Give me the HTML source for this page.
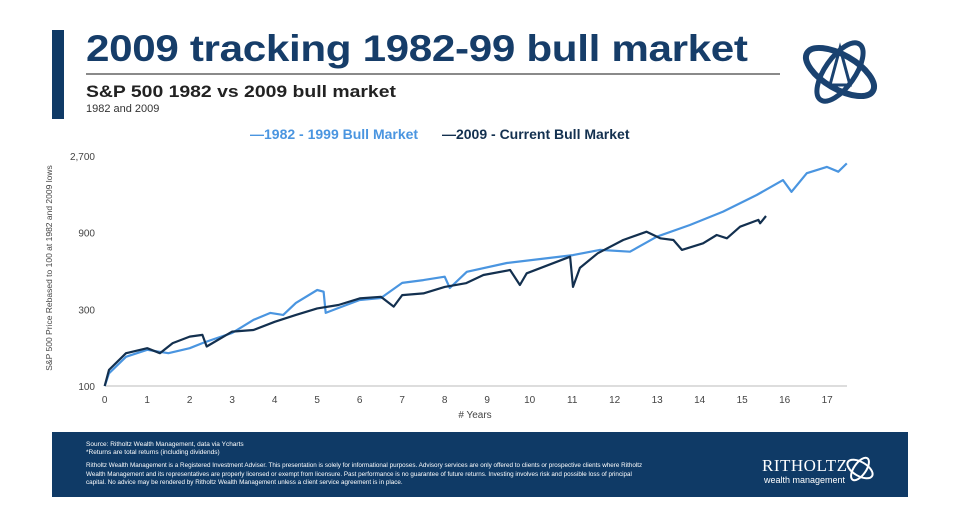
<!DOCTYPE html>
<html><head><meta charset="utf-8">
<style>
html,body{margin:0;padding:0;background:#fff;}
body{width:953px;height:505px;position:relative;overflow:hidden;font-family:"Liberation Sans",sans-serif;}
.abs{position:absolute;}
</style></head>
<body>
<div class="abs" style="left:52px;top:30px;width:12px;height:89px;background:#0f3a66"></div>
<div class="abs" style="left:86px;top:28px;font-size:37px;font-weight:bold;color:#163d69;letter-spacing:-0.3px;white-space:nowrap;transform:scaleX(1.14);transform-origin:0 0">2009 tracking 1982-99 bull market</div>
<div class="abs" style="left:86px;top:73px;width:694px;height:2px;background:#8a8a8a"></div>
<div class="abs" style="left:86px;top:82px;font-size:17px;font-weight:bold;color:#222;white-space:nowrap;transform:scaleX(1.14);transform-origin:0 0">S&amp;P 500 1982 vs 2009 bull market</div>
<div class="abs" style="left:86px;top:103px;font-size:11px;color:#333">1982 and 2009</div>
<svg class="abs" style="left:795px;top:30px" width="90" height="85" viewBox="0 0 90 85">
<ellipse cx="45" cy="42" rx="38" ry="17" transform="rotate(30 45 42)" fill="none" stroke="#1a4270" stroke-width="6"/>
<ellipse cx="45" cy="42" rx="34" ry="15" transform="rotate(-55 45 42)" fill="none" stroke="#1a4270" stroke-width="5"/>
<path d="M45 18 L55 55 L35 55 Z" fill="none" stroke="#1a4270" stroke-width="3"/>
</svg>
<div class="abs" style="left:250px;top:126px;font-size:14px;font-weight:bold;white-space:nowrap">
<span style="color:#4a95e0">—1982 - 1999 Bull Market</span>
<span style="color:#13304f;margin-left:20px">—2009 - Current Bull Market</span>
</div>
<svg class="abs" id="chart" style="left:0;top:0" width="953" height="505"></svg>
<div class="abs" style="left:52px;top:432px;width:856px;height:65px;background:#0f3a66;color:#fff">
<div style="position:absolute;left:34px;top:9px;font-size:6.5px;line-height:8px">Source: Ritholtz Wealth Management, data via Ycharts<br>*Returns are total returns (including dividends)</div>
<div style="position:absolute;left:34px;top:30px;width:560px;font-size:6.3px;line-height:8.5px">Ritholtz Wealth Management is a Registered Investment Adviser. This presentation is solely for informational purposes. Advisory services are only offered to clients or prospective clients where Ritholtz Wealth Management and its representatives are properly licensed or exempt from licensure. Past performance is no guarantee of future returns. Investing involves risk and possible loss of principal capital. No advice may be rendered by Ritholtz Wealth Management unless a client service agreement is in place.</div>
<div style="position:absolute;left:710px;top:24px;font-family:'Liberation Serif',serif;font-size:17px;letter-spacing:0.5px">RITHOLTZ</div>
<div style="position:absolute;left:712px;top:43px;font-size:9px">wealth management</div>
<svg style="position:absolute;left:792px;top:20px" width="32" height="34"><ellipse cx="16" cy="17" rx="14" ry="7" transform="rotate(30 16 17)" fill="none" stroke="#fff" stroke-width="2"/><ellipse cx="16" cy="17" rx="13" ry="6" transform="rotate(-55 16 17)" fill="none" stroke="#fff" stroke-width="2"/></svg>
</div>
<script>
const yTicks=[100,300,900,2700];
const yTickLabels=["100","300","900","2,700"];
const xTicks=[0,1,2,3,4,5,6,7,8,9,10,11,12,13,14,15,16,17];
const years1982=[0,0.1,0.5,1,1.5,2,2.3,2.5,3,3.5,3.9,4.2,4.5,5,5.15,5.2,5.5,6,6.5,7,7.5,8,8.12,8.52,9.46,11.02,11.65,12.36,12.99,13.77,14.55,15.34,15.96,16.16,16.52,16.99,17.26,17.46];
const values1982=[100,120,152,168,160,172,185,193,214,258,285,277,329,396,386,285,306,343,353,438,456,479,407,514,583,653,703,685,850,1005,1218,1545,1911,1616,2110,2310,2155,2430];
const years2009=[0,0.1,0.5,1,1.3,1.6,2,2.3,2.4,3,3.5,4,4.5,5,5.5,6,6.5,6.8,7,7.5,8,8.5,8.91,9.54,9.77,9.93,10.95,11.02,11.18,11.6,12.2,12.75,13.07,13.38,13.58,14.08,14.4,14.64,14.95,15.38,15.42,15.56];
const values2009=[100,126,160,172,160,185,203,208,176,218,223,251,277,304,319,351,359,312,368,377,414,436,491,527,425,503,638,414,543,670,810,912,830,810,703,773,870,830,980,1080,1030,1143];
const svg=document.getElementById('chart');
const NS='http://www.w3.org/2000/svg';
const x0=104.7,xStep=42.5,yBase=386,yH=230;
function xs(t){return x0+t*xStep;}
function ys(v){return yBase-yH*Math.log(v/100)/Math.log(27);}
function mk(tag,attrs){const e=document.createElementNS(NS,tag);for(const k in attrs)e.setAttribute(k,attrs[k]);svg.appendChild(e);return e;}
let axis=mk('line',{x1:x0,y1:yBase,x2:847,y2:yBase,stroke:'#bbb','stroke-width':1});


yTicks.forEach((v,i)=>{
  const t=mk('text',{x:95,y:ys(v)+4,'text-anchor':'end','font-size':10,fill:'#444','font-family':'Liberation Sans, sans-serif'});
  t.textContent=yTickLabels[i];
  
  
});
xTicks.forEach(v=>{
  const t=mk('text',{x:xs(v),y:403,'text-anchor':'middle','font-size':10,fill:'#444','font-family':'Liberation Sans, sans-serif'});
  t.textContent=String(v);
  
  
});
const xt=mk('text',{x:475,y:418,'text-anchor':'middle','font-size':10,fill:'#444','font-family':'Liberation Sans, sans-serif'});
xt.textContent='# Years';


const yt=mk('text',{x:0,y:0,'text-anchor':'middle','font-size':8.5,fill:'#444','font-family':'Liberation Sans, sans-serif',transform:'translate(52,268) rotate(-90)'});
yt.textContent='S&P 500 Price Rebased to 100 at 1982 and 2009 lows';


function line(xsArr,vals,color){return mk('polyline',{points:xsArr.map((t,i)=>xs(t).toFixed(1)+','+ys(vals[i]).toFixed(1)).join(' '),fill:'none',stroke:color,'stroke-width':2.2,'stroke-linejoin':'round'});}
const l1=line(years1982,values1982,'#4a95e0');


const l2=line(years2009,values2009,'#13304f');


</script>
</body></html>
